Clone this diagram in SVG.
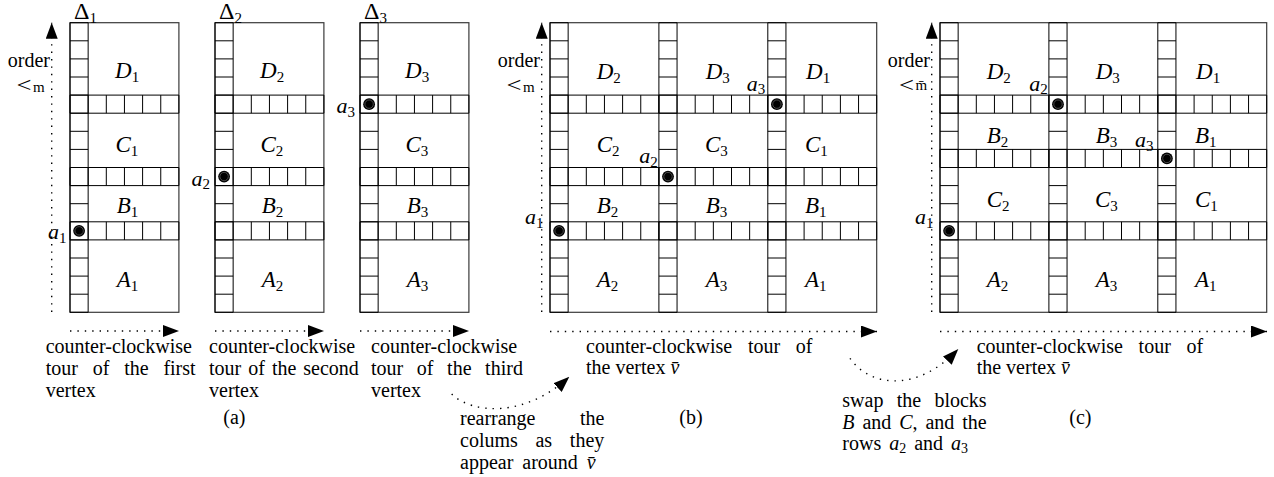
<svg xmlns="http://www.w3.org/2000/svg" width="1274" height="477" viewBox="0 0 1274 477">
<style>
.g{fill:none;stroke:#000;stroke-width:1}
.fr{fill:none;stroke:#3a3a3a;stroke-width:1.2}
.t{font-family:"Liberation Serif","Times New Roman",serif;font-size:20px;fill:#000}
.m{font-family:"Liberation Serif","Times New Roman",serif;font-size:23px;font-style:italic;fill:#000}
.am{font-family:"Liberation Serif","Times New Roman",serif;font-size:22px;font-style:italic;fill:#000}
.dl{font-family:"Liberation Serif","Times New Roman",serif;font-size:24px;fill:#000}
.lt{font-family:"Liberation Serif","Times New Roman",serif;font-size:22px;fill:#000}
.ms{font-family:"Liberation Serif","Times New Roman",serif;font-size:15px;fill:#000}
.it{font-style:italic}
.sub{font-style:normal;font-size:15px}
.dt{fill:none;stroke:#000;stroke-width:1.4;stroke-dasharray:1.4 6}
</style>
<defs>
<marker id="ah" viewBox="0 0 16 12" refX="16" refY="6" markerWidth="16" markerHeight="12" orient="auto" markerUnits="userSpaceOnUse"><path d="M0,0L16,6L0,12z" fill="#000"/></marker>
<path id="col" class="g" d="M0,0h18.15v289.6h-18.15zM0,18.1h18.15M0,36.2h18.15M0,54.3h18.15M0,72.4h18.15M0,90.5h18.15M0,108.6h18.15M0,126.7h18.15M0,144.8h18.15M0,162.9h18.15M0,181h18.15M0,199.1h18.15M0,217.2h18.15M0,235.3h18.15M0,253.4h18.15M0,271.5h18.15"/>
<path id="strip6" class="g" d="M0,0h108.9v18.1h-108.9zM18.15,0v18.1M36.3,0v18.1M54.45,0v18.1M72.6,0v18.1M90.75,0v18.1"/>
<g id="strip18"><use href="#strip6"/><use href="#strip6" x="108.9"/><use href="#strip6" x="217.8"/></g>
<g id="dot"><circle r="5.9" fill="#000"/><circle r="4.2" fill="none" stroke="#6a6a6a" stroke-width="0.7"/></g>
</defs>

<!-- panel (a) -->
<g id="block-a1">
<rect class="fr" x="70" y="22.7" width="108.9" height="289.6"/>
<use href="#col" x="70" y="22.7"/>
<use href="#strip6" x="70" y="95.1"/><use href="#strip6" x="70" y="167.5"/><use href="#strip6" x="70" y="221.8"/>
<use href="#dot" x="79.1" y="230.85"/>
<text class="dl" x="74" y="19">Δ<tspan class="sub" dy="3.5">1</tspan></text>
<text class="m" x="115" y="77.5">D<tspan class="sub" dy="4">1</tspan></text>
<text class="m" x="115.5" y="151.7">C<tspan class="sub" dy="4">1</tspan></text>
<text class="m" x="116.7" y="213.3">B<tspan class="sub" dy="4">1</tspan></text>
<text class="m" x="116.7" y="287.3">A<tspan class="sub" dy="4">1</tspan></text>
<text class="am" x="48" y="239">a<tspan class="sub" dy="3.5">1</tspan></text>
</g>
<g id="block-a2">
<rect class="fr" x="215" y="22.7" width="108.9" height="289.6"/>
<use href="#col" x="215" y="22.7"/>
<use href="#strip6" x="215" y="95.1"/><use href="#strip6" x="215" y="167.5"/><use href="#strip6" x="215" y="221.8"/>
<use href="#dot" x="224.1" y="176.55"/>
<text class="dl" x="219" y="19">Δ<tspan class="sub" dy="3.5">2</tspan></text>
<text class="m" x="260" y="77.5">D<tspan class="sub" dy="4">2</tspan></text>
<text class="m" x="260.5" y="151.7">C<tspan class="sub" dy="4">2</tspan></text>
<text class="m" x="261.7" y="213.3">B<tspan class="sub" dy="4">2</tspan></text>
<text class="m" x="261.7" y="287.3">A<tspan class="sub" dy="4">2</tspan></text>
<text class="am" x="191.5" y="185.5">a<tspan class="sub" dy="3.5">2</tspan></text>
</g>
<g id="block-a3">
<rect class="fr" x="360" y="22.7" width="108.9" height="289.6"/>
<use href="#col" x="360" y="22.7"/>
<use href="#strip6" x="360" y="95.1"/><use href="#strip6" x="360" y="167.5"/><use href="#strip6" x="360" y="221.8"/>
<use href="#dot" x="369.1" y="104.15"/>
<text class="dl" x="364" y="19">Δ<tspan class="sub" dy="3.5">3</tspan></text>
<text class="m" x="405" y="77.5">D<tspan class="sub" dy="4">3</tspan></text>
<text class="m" x="405.5" y="151.7">C<tspan class="sub" dy="4">3</tspan></text>
<text class="m" x="406.7" y="213.3">B<tspan class="sub" dy="4">3</tspan></text>
<text class="m" x="406.7" y="287.3">A<tspan class="sub" dy="4">3</tspan></text>
<text class="am" x="336.5" y="113">a<tspan class="sub" dy="3.5">3</tspan></text>
</g>

<!-- panel (b) -->
<g id="grid-b">
<rect class="fr" x="550" y="22.7" width="326.7" height="289.6"/>
<use href="#col" x="550" y="22.7"/><use href="#col" x="658.9" y="22.7"/><use href="#col" x="767.8" y="22.7"/>
<use href="#strip18" x="550" y="95.1"/><use href="#strip18" x="550" y="167.5"/><use href="#strip18" x="550" y="221.8"/>
<use href="#dot" x="559.1" y="230.85"/><use href="#dot" x="668" y="176.55"/><use href="#dot" x="776.9" y="104.15"/>
<text class="m" x="596.7" y="79">D<tspan class="sub" dy="4">2</tspan></text>
<text class="m" x="705.7" y="79">D<tspan class="sub" dy="4">3</tspan></text>
<text class="m" x="806" y="79">D<tspan class="sub" dy="4">1</tspan></text>
<text class="m" x="596.7" y="151.7">C<tspan class="sub" dy="4">2</tspan></text>
<text class="m" x="705" y="151.7">C<tspan class="sub" dy="4">3</tspan></text>
<text class="m" x="805" y="151.7">C<tspan class="sub" dy="4">1</tspan></text>
<text class="m" x="596.7" y="213.3">B<tspan class="sub" dy="4">2</tspan></text>
<text class="m" x="705.7" y="213.3">B<tspan class="sub" dy="4">3</tspan></text>
<text class="m" x="805" y="213.3">B<tspan class="sub" dy="4">1</tspan></text>
<text class="m" x="596.7" y="287.3">A<tspan class="sub" dy="4">2</tspan></text>
<text class="m" x="705.7" y="287.3">A<tspan class="sub" dy="4">3</tspan></text>
<text class="m" x="805" y="287.3">A<tspan class="sub" dy="4">1</tspan></text>
<text class="am" x="525" y="224">a<tspan class="sub" dy="3.5">1</tspan></text>
<text class="am" x="639.3" y="163">a<tspan class="sub" dy="3.5">2</tspan></text>
<text class="am" x="746.7" y="90.5">a<tspan class="sub" dy="3.5">3</tspan></text>
</g>

<!-- panel (c) -->
<g id="grid-c">
<rect class="fr" x="940" y="22.7" width="326.7" height="289.6"/>
<use href="#col" x="940" y="22.7"/><use href="#col" x="1048.9" y="22.7"/><use href="#col" x="1157.8" y="22.7"/>
<use href="#strip18" x="940" y="95.1"/><use href="#strip18" x="940" y="149.4"/><use href="#strip18" x="940" y="221.8"/>
<use href="#dot" x="949.1" y="230.85"/><use href="#dot" x="1058" y="104.15"/><use href="#dot" x="1166.9" y="158.45"/>
<text class="m" x="986.7" y="79">D<tspan class="sub" dy="4">2</tspan></text>
<text class="m" x="1095.7" y="79">D<tspan class="sub" dy="4">3</tspan></text>
<text class="m" x="1196" y="79">D<tspan class="sub" dy="4">1</tspan></text>
<text class="m" x="986.7" y="143.3">B<tspan class="sub" dy="4">2</tspan></text>
<text class="m" x="1095.7" y="143.3">B<tspan class="sub" dy="4">3</tspan></text>
<text class="m" x="1195" y="143.3">B<tspan class="sub" dy="4">1</tspan></text>
<text class="m" x="986.7" y="207.3">C<tspan class="sub" dy="4">2</tspan></text>
<text class="m" x="1095" y="207.3">C<tspan class="sub" dy="4">3</tspan></text>
<text class="m" x="1195" y="207.3">C<tspan class="sub" dy="4">1</tspan></text>
<text class="m" x="986.7" y="287.3">A<tspan class="sub" dy="4">2</tspan></text>
<text class="m" x="1095.7" y="287.3">A<tspan class="sub" dy="4">3</tspan></text>
<text class="m" x="1195" y="287.3">A<tspan class="sub" dy="4">1</tspan></text>
<text class="am" x="915" y="224">a<tspan class="sub" dy="3.5">1</tspan></text>
<text class="am" x="1029.3" y="90.5">a<tspan class="sub" dy="3.5">2</tspan></text>
<text class="am" x="1135" y="147">a<tspan class="sub" dy="3.5">3</tspan></text>
</g>

<!-- connectors -->
<g id="connectors">
<path class="dt" d="M51.7,312V22.7" marker-end="url(#ah)"/>
<path class="dt" d="M541.7,312V22.7" marker-end="url(#ah)"/>
<path class="dt" d="M931.7,312V22.7" marker-end="url(#ah)"/>
<path class="dt" d="M70,331H179" marker-end="url(#ah)"/>
<path class="dt" d="M215,331H324" marker-end="url(#ah)"/>
<path class="dt" d="M360,331H469" marker-end="url(#ah)"/>
<path class="dt" d="M550,331.5H877" marker-end="url(#ah)"/>
<path class="dt" d="M940,331.5H1267" marker-end="url(#ah)"/>
<path class="dt" d="M451.7,394C472,414 525,418 569.3,376.7" marker-end="url(#ah)"/>
<path class="dt" d="M850,358.3C868,385 915,395 958.3,349" marker-end="url(#ah)"/>
</g>

<!-- axis labels -->
<g id="order-labels">
<text class="t" x="50" y="66.5" text-anchor="end">order</text>
<text class="lt" x="16.5" y="91.5" textLength="15" lengthAdjust="spacingAndGlyphs">&lt;</text>
<text class="ms" x="33" y="92">m</text>
<text class="t" x="540" y="66.5" text-anchor="end">order</text>
<text class="lt" x="506.5" y="91.5" textLength="15" lengthAdjust="spacingAndGlyphs">&lt;</text>
<text class="ms" x="523" y="92">m</text>
<text class="t" x="930" y="66.5" text-anchor="end">order</text>
<text class="lt" x="899" y="91.5" textLength="15" lengthAdjust="spacingAndGlyphs">&lt;</text>
<text class="ms" x="915.5" y="90" font-size="14">m̄</text>
</g>

<!-- captions -->
<g id="captions">
<text class="t" x="45.7" y="353.3">counter-clockwise</text>
<text class="t" x="45.7" y="375" word-spacing="9.8">tour of the first</text>
<text class="t" x="45.7" y="396.7">vertex</text>
<text class="t" x="209" y="353.3">counter-clockwise</text>
<text class="t" x="209" y="375" word-spacing="2">tour of the second</text>
<text class="t" x="209" y="396.7">vertex</text>
<text class="t" x="371" y="353.3">counter-clockwise</text>
<text class="t" x="371" y="375" word-spacing="8.6">tour of the third</text>
<text class="t" x="371" y="396.7">vertex</text>
<text class="t" x="223.3" y="424">(a)</text>
<text class="t" x="586" y="352.5" word-spacing="10.7">counter-clockwise tour of</text>
<text class="t" x="586" y="374">the vertex <tspan class="it">v̄</tspan></text>
<text class="t" x="679.3" y="424">(b)</text>
<text class="t" x="460" y="425" word-spacing="39.4">rearrange the</text>
<text class="t" x="460" y="447" word-spacing="12.7">colums as they</text>
<text class="t" x="460" y="469" word-spacing="4">appear around <tspan class="it">v̄</tspan></text>
<text class="t" x="976.7" y="352.5" word-spacing="10.7">counter-clockwise tour of</text>
<text class="t" x="976.7" y="374">the vertex <tspan class="it">v̄</tspan></text>
<text class="t" x="1069.3" y="424">(c)</text>
<text class="t" x="842.3" y="407" word-spacing="8.3">swap the blocks</text>
<text class="t" x="842.3" y="428.5" word-spacing="2.9"><tspan class="it">B</tspan> and <tspan class="it">C</tspan>, and the</text>
<text class="t" x="842.3" y="449.5" word-spacing="3">rows <tspan class="it">a</tspan><tspan font-size="14" dy="3.5">2</tspan><tspan dy="-3.5"> and </tspan><tspan class="it">a</tspan><tspan font-size="14" dy="3.5">3</tspan></text>
</g>
</svg>
